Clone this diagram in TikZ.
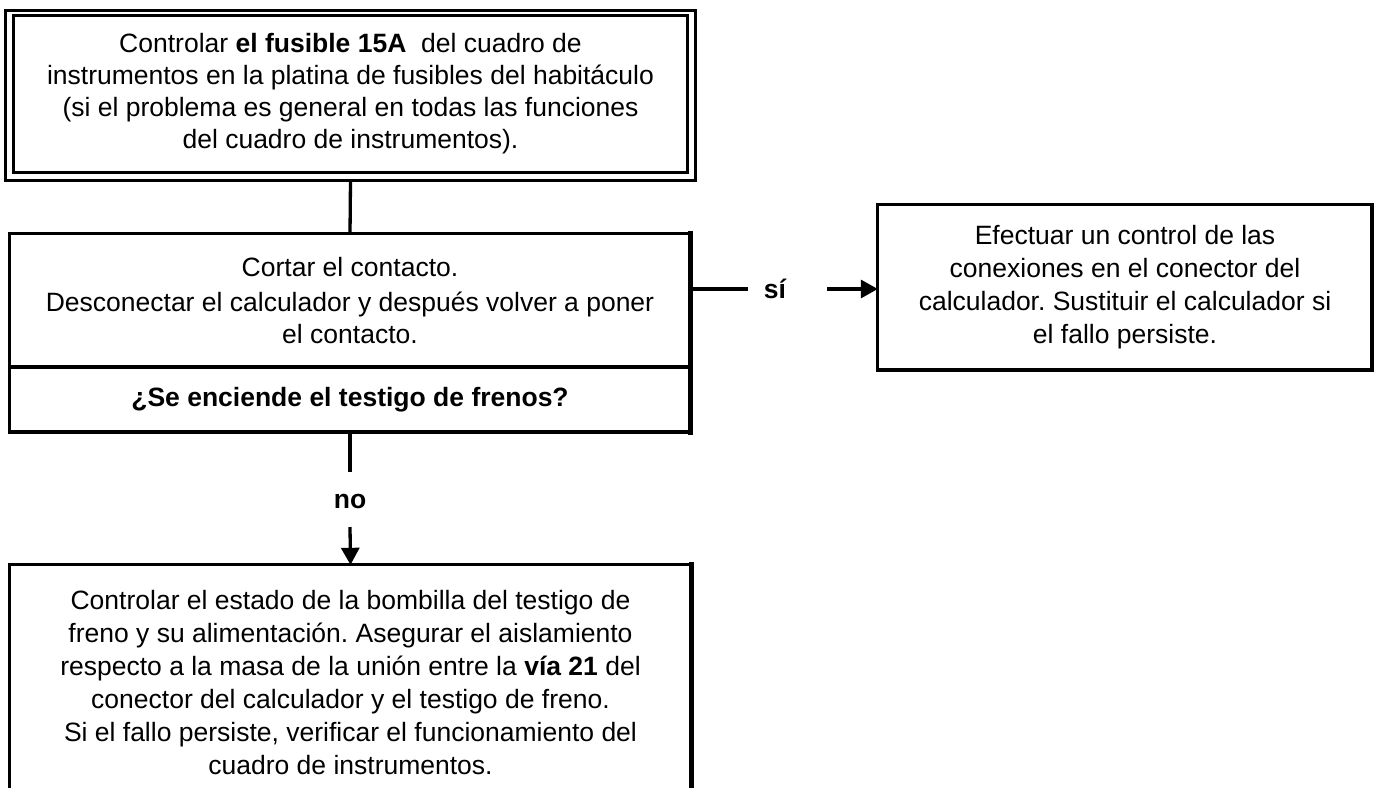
\documentclass[tikz,border=0pt]{standalone}
\usepackage{fontspec}
\setmainfont{Liberation Sans}
\usetikzlibrary{arrows.meta}
\frenchspacing
\begin{document}
\begin{tikzpicture}[x=1pt,y=-1pt,
  txt/.style={align=center, inner sep=0pt, font=\fontsize{26.5}{32}\selectfont},
  lbl/.style={inner sep=0pt, font=\fontsize{26.5}{32}\selectfont\bfseries},
  thinedge/.style={line width=3.3pt, line cap=rect},
  heavyedge/.style={line width=5pt, line cap=rect},
  midedge/.style={line width=4.2pt, line cap=rect},
  conn/.style={line width=3.3pt},
  tip/.style={-{Triangle[length=17pt,width=18pt]}},
]
\useasboundingbox (0,0) rectangle (1378,787);

% top box (double border)
\node[txt, minimum width=673pt, minimum height=156pt] (t) at (350.5,94)
  {Controlar \textbf{el fusible 15A}\ \ del cuadro de\\
   instrumentos en la platina de fusibles del habitáculo\\
   (si el problema es general en todas las funciones\\
   del cuadro de instrumentos).};
\draw[thinedge] (t.south west) rectangle (t.north east);
\coordinate (tow) at ([xshift=-8pt,yshift=5pt]t.north west);
\coordinate (toe) at ([xshift=8pt,yshift=-8pt]t.south east);
\draw[thinedge] (tow) rectangle (toe);

% second box: action part + question part
\node[txt, minimum width=680pt, minimum height=133pt] (b2) at (350,300.5)
  {Cortar el contacto.\\[3pt]
   Desconectar el calculador y después volver a poner\\
   el contacto.};
\node[txt, minimum width=680pt, minimum height=65pt, font=\fontsize{26.5}{32}\selectfont\bfseries] (q) at (350,399.5)
  {¿Se enciende el testigo de frenos?};
\draw[thinedge] (q.south west) -- (b2.north west) -- (b2.north east);
\draw[midedge] (b2.south west) -- (b2.south east);
\draw[heavyedge] (b2.north east) -- (q.south east);
\draw[midedge] (q.south west) -- (q.south east);

% right box
\node[txt, minimum width=494pt, minimum height=165pt, font=\fontsize{26.5}{33}\selectfont] (b3) at (1125,287.5)
  {Efectuar un control de las\\
   conexiones en el conector del\\
   calculador. Sustituir el calculador si\\
   el fallo persiste.};
\draw[thinedge] (b3.south west) -- (b3.north west) -- (b3.north east);
\draw[midedge] (b3.north east) -- (b3.south east) -- (b3.south west);

% bottom box (open at the bottom)
\node[txt, minimum width=681pt, minimum height=235pt, font=\fontsize{26.5}{33}\selectfont] (c) at (350.5,682.5)
  {Controlar el estado de la bombilla del testigo de\\
   freno y su alimentación. Asegurar el aislamiento\\
   respecto a la masa de la unión entre la \textbf{vía 21} del\\
   conector del calculador y el testigo de freno.\\
   Si el fallo persiste, verificar el funcionamiento del\\
   cuadro de instrumentos.};
\draw[thinedge] (c.south west) -- (c.north west) -- (c.north east);
\draw[heavyedge] (c.north east) -- (c.south east);

% connectors
\draw[conn] (t.south |- toe) -- (b2.north);

\node[lbl] (si) at (775,289) {sí};
\coordinate (siL) at (748,289);
\coordinate (siR) at (827,289);
\draw[conn] (b2.east |- siL) -- (siL);
\draw[conn, tip] (siR) -- (b3.west |- siR);

\node[lbl] (no) at (350,501) {no};
\coordinate (noT) at (350,472);
\coordinate (noB) at (350,527);
\draw[conn] (q.south) -- (noT);
\draw[conn, tip] (noB) -- (c.north);
\end{tikzpicture}
\end{document}
